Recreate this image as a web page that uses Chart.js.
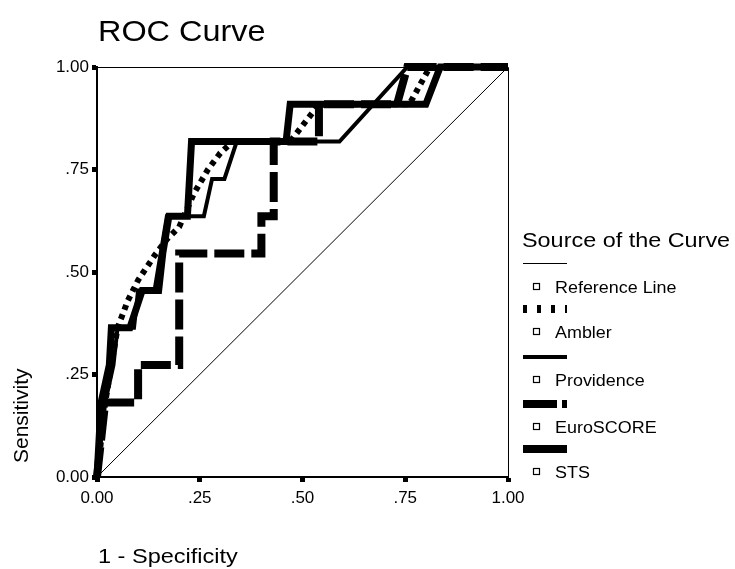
<!DOCTYPE html>
<html>
<head>
<meta charset="utf-8">
<script src="https://cdn.jsdelivr.net/npm/chart.js@4.4.1/dist/chart.umd.min.js"></script>
<style>
  html, body { margin: 0; padding: 0; background: #fff; }
  #wrap { width: 735px; height: 569px; position: relative; }
</style>
</head>
<body>
<div id="wrap"><canvas id="roc" width="735" height="569"></canvas></div>
<script>
// ── Data (1 - specificity, sensitivity) ──
const tickLabels = ["0.00", ".25", ".50", ".75", "1.00"];
const legendNames = ["Reference Line", "Ambler", "Providence", "EuroSCORE", "STS"];

const refX = [0, 1];
const refY = [0, 1];

const amblerX = [0, 0.01, 0.02, 0.035, 0.05, 0.075, 0.10, 0.14, 0.17, 0.20, 0.235, 0.27, 0.30, 0.33, 0.47, 0.54, 0.76, 0.81, 1];
const amblerY = [0, 0.091, 0.182, 0.273, 0.364, 0.43, 0.48, 0.54, 0.58, 0.61, 0.69, 0.75, 0.79, 0.818, 0.818, 0.909, 0.909, 1, 1];

const provX = [0, 0.01, 0.02, 0.04, 0.05, 0.09, 0.10, 0.14, 0.17, 0.26, 0.28, 0.31, 0.34, 0.59, 0.755, 1];
const provY = [0, 0.091, 0.182, 0.273, 0.364, 0.364, 0.455, 0.455, 0.636, 0.636, 0.727, 0.727, 0.818, 0.818, 1, 1];

const euroX = [0, 0.01, 0.02, 0.10, 0.10, 0.20, 0.20, 0.40, 0.40, 0.43, 0.43, 0.54, 0.54, 0.73, 0.755, 1];
const euroY = [0, 0.091, 0.182, 0.182, 0.273, 0.273, 0.545, 0.545, 0.636, 0.636, 0.818, 0.818, 0.909, 0.909, 1, 1];

const stsX = [0, 0.005, 0.01, 0.03, 0.035, 0.08, 0.11, 0.15, 0.16, 0.175, 0.22, 0.23, 0.46, 0.47, 0.80, 0.835, 1];
const stsY = [0, 0.091, 0.182, 0.273, 0.364, 0.364, 0.455, 0.455, 0.545, 0.636, 0.636, 0.818, 0.818, 0.909, 0.909, 1, 1];

const toPts = (xs, ys) => xs.map((x, i) => ({ x, y: ys[i] }));

// legend sample style per series
const legendStyle = [
  { w: 1, dash: [] },
  { w: 8, dash: [4, 10] },
  { w: 4, dash: [] },
  { w: 8, dash: [34, 5, 5, 5] },
  { w: 8, dash: [] },
];

const FONT = "'Liberation Sans', Arial, sans-serif";

// text drawn slightly stretched, like the SPSS output
function wideText(ctx, txt, x, y, size, sx) {
  ctx.save();
  ctx.font = `${size}px ${FONT}`;
  ctx.fillStyle = "#000";
  ctx.textBaseline = "alphabetic";
  ctx.textAlign = "left";
  ctx.translate(x, y);
  ctx.scale(sx, 1);
  ctx.fillText(txt, 0, 0);
  ctx.restore();
}

const decorPlugin = {
  id: "decor",
  afterDraw(chart) {
    const ctx = chart.ctx;
    const { left, right, top, bottom } = chart.chartArea;

    // top and right frame
    ctx.save();
    ctx.strokeStyle = "#000";
    ctx.lineWidth = 1;
    ctx.beginPath();
    ctx.moveTo(left, top + 0.5); ctx.lineTo(right + 0.5, top + 0.5); ctx.lineTo(right + 0.5, bottom);
    ctx.stroke();
    ctx.restore();

    // titles
    wideText(ctx, "ROC Curve", 98, 41, 30, 1.08);
    wideText(ctx, "1 - Specificity", 98, 563, 21, 1.12);
    ctx.save();
    ctx.font = `21px ${FONT}`;
    ctx.fillStyle = "#000";
    ctx.translate(28, 463);
    ctx.rotate(-Math.PI / 2);
    ctx.fillText("Sensitivity", 0, 0);
    ctx.restore();

    // legend
    wideText(ctx, "Source of the Curve", 522, 247, 20, 1.17);
    const sampleY = [263.5, 309, 357, 404, 449];
    legendNames.forEach((name, i) => {
      const st = legendStyle[i];
      const sy = sampleY[i];
      ctx.save();
      ctx.strokeStyle = "#000";
      ctx.lineWidth = st.w;
      ctx.lineCap = "butt";
      ctx.setLineDash(st.dash);
      ctx.beginPath();
      ctx.moveTo(523, sy); ctx.lineTo(567, sy);
      ctx.stroke();
      ctx.setLineDash([]);
      const ly = Math.round(sy) + 23 + (i === 0 ? 6 : 6);
      ctx.lineWidth = 1.2;
      ctx.strokeRect(533.5, ly - 9.5, 6, 6);
      ctx.restore();
      wideText(ctx, name, 555, ly, 16, 1.12);
    });
  }
};

function axisOpts(isY) {
  return {
    type: "linear",
    min: 0,
    max: 1,
    border: { color: "#000", width: 2 },
    grid: {
      display: true,
      drawOnChartArea: false,
      drawTicks: true,
      tickLength: 5,
      tickWidth: 5,
      tickColor: "#000",
      color: "#000",
    },
    ticks: {
      stepSize: 0.25,
      color: "#000",
      font: { size: 17, family: FONT },
      padding: isY ? 3 : 6,
      maxRotation: 0,
      autoSkip: false,
      callback: (v, i) => tickLabels[i],
    },
    afterFit(axis) {
      if (isY) axis.width = 97;
      else axis.height = 92;
    },
  };
}

const lineDs = (xs, ys, width, dash, order) => ({
  data: toPts(xs, ys),
  showLine: true,
  borderColor: "#000",
  borderWidth: width,
  borderDash: dash,
  borderCapStyle: "butt",
  borderJoinStyle: "miter",
  pointRadius: 0,
  pointHoverRadius: 0,
  tension: 0,
  fill: false,
  clip: false,
  order,
});

new Chart(document.getElementById("roc"), {
  type: "scatter",
  data: {
    datasets: [
      lineDs(refX, refY, 1, [], 5),
      lineDs(euroX, euroY, 8, [30, 7], 4),
      lineDs(stsX, stsY, 7, [], 3),
      lineDs(provX, provY, 4, [], 2),
      lineDs(amblerX, amblerY, 6, [5, 5], 1),
    ]
  },
  plugins: [decorPlugin],
  options: {
    responsive: false,
    animation: false,
    devicePixelRatio: 1,
    layout: { padding: { left: 0, top: 67, right: 227, bottom: 0 } },
    plugins: {
      legend: { display: false },
      title: { display: false },
      tooltip: { enabled: false },
    },
    scales: {
      x: axisOpts(false),
      y: axisOpts(true),
    }
  }
});
</script>
</body>
</html>
